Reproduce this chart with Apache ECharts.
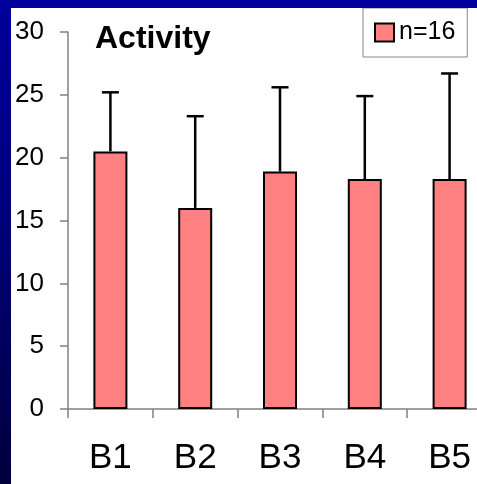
<!DOCTYPE html>
<html>
<head>
<meta charset="utf-8">
<script src="https://cdn.jsdelivr.net/npm/echarts@6/dist/echarts.min.js"></script>
<style>
  html, body { margin: 0; padding: 0; width: 477px; height: 484px; overflow: hidden;
    background: linear-gradient(to bottom, #00009c 0%, #000080 40%, #00003c 100%); }
  #chart { position: absolute; left: 11px; top: 8px; width: 466px; height: 476px; background: #ffffff; }
</style>
</head>
<body>
<div id="chart"></div>
<script>
const categories = ['B1', 'B2', 'B3', 'B4', 'B5'];
const means = [20.5, 16.0, 18.9, 18.3, 18.3];
const upperErrors = [4.7, 7.3, 6.7, 6.6, 8.4];
const yTicks = [0, 5, 10, 15, 20, 25, 30];
const seriesName = 'n=16';
const titleText = 'Activity';

const chart = echarts.init(document.getElementById('chart'), null, { renderer: 'canvas' });
const font = 'Liberation Sans, Arial, sans-serif';

const errData = categories.map((c, i) => [i, means[i], means[i] + upperErrors[i]]);

chart.setOption({
  animation: false,
  title: {
    text: titleText,
    left: 84, top: 15, padding: 0,
    textStyle: { fontFamily: font, fontSize: 32, fontWeight: 'bold', color: '#000' }
  },
  legend: {
    data: [seriesName],
    left: 352, top: 0,
    padding: [12, 12, 12, 11],
    borderColor: '#888888', borderWidth: 1,
    backgroundColor: '#ffffff',
    itemWidth: 19, itemHeight: 18,
    icon: 'rect',
    textStyle: { fontFamily: font, fontSize: 25, color: '#000' }
  },
  grid: { left: 57, top: 24, bottom: 75, right: -15, outerBoundsMode: 'none', containLabel: false },
  xAxis: {
    type: 'category',
    data: categories,
    axisLine: { lineStyle: { color: '#808080', width: 1.5 } },
    axisTick: { show: true, length: 9, alignWithLabel: false, lineStyle: { color: '#808080', width: 1.5 } },
    axisLabel: { fontFamily: font, fontSize: 35, color: '#000', margin: 32 }
  },
  yAxis: {
    type: 'value',
    min: yTicks[0], max: yTicks[yTicks.length - 1], interval: 5,
    splitLine: { show: false },
    axisLine: { show: true, lineStyle: { color: '#808080', width: 1.5 } },
    axisTick: { show: true, length: 8, lineStyle: { color: '#808080', width: 1.5 } },
    axisLabel: { fontFamily: font, fontSize: 26, color: '#000', margin: 24 }
  },
  series: [
    {
      name: seriesName,
      type: 'bar',
      data: means,
      barWidth: 34,
      itemStyle: { color: '#ff8080', borderColor: '#000', borderWidth: 2 }
    },
    {
      type: 'custom',
      name: 'err',
      z: 5,
      data: errData,
      renderItem: function (params, api) {
        const x = api.value(0);
        const lo = api.coord([x, api.value(1)]);
        const hi = api.coord([x, api.value(2)]);
        const half = 8.5;
        return {
          type: 'group',
          children: [
            { type: 'line', shape: { x1: lo[0], y1: lo[1], x2: hi[0], y2: hi[1] },
              style: { stroke: '#000', lineWidth: 2.5 } },
            { type: 'line', shape: { x1: hi[0] - half, y1: hi[1], x2: hi[0] + half, y2: hi[1] },
              style: { stroke: '#000', lineWidth: 2.5 } }
          ]
        };
      }
    }
  ]
});
</script>
</body>
</html>
